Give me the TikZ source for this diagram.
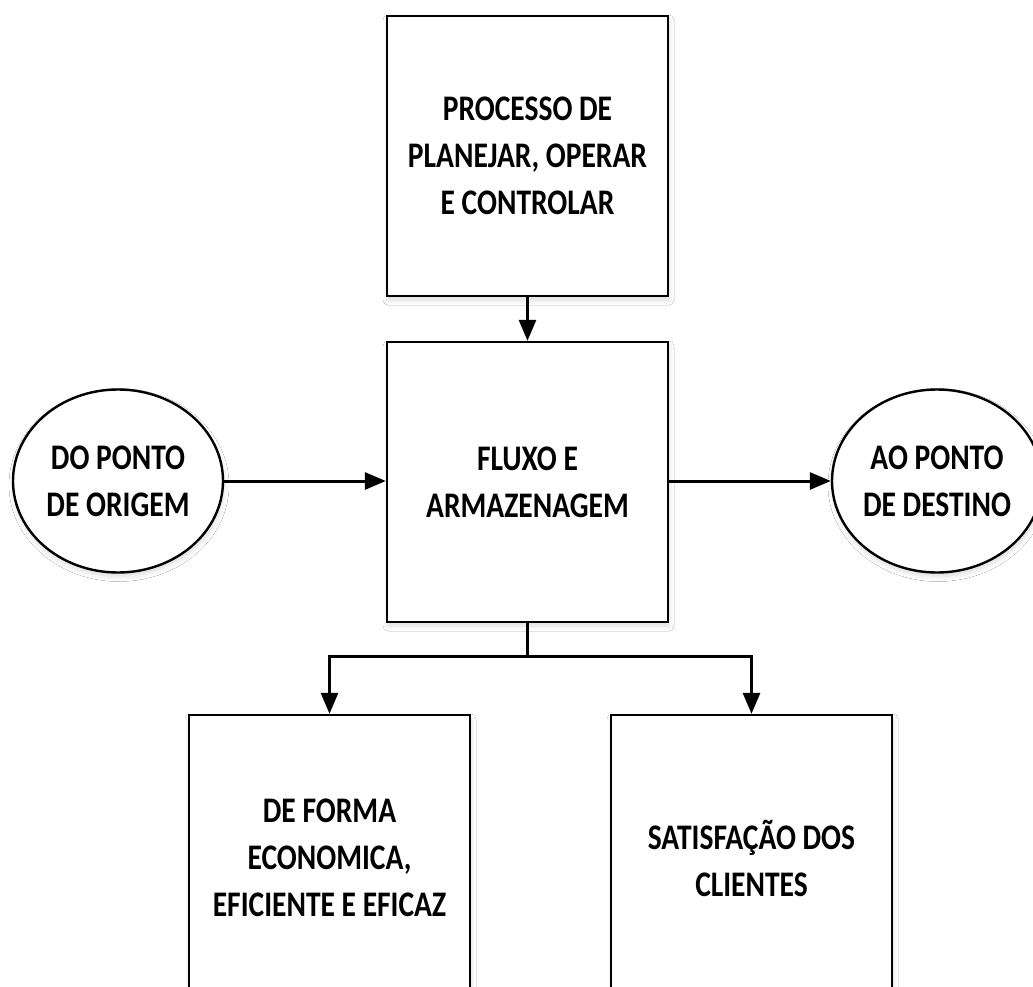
\documentclass[tikz,border=0pt]{standalone}
\usepackage{fontspec}
\setmainfont{Carlito}[FakeStretch=0.82]
\usetikzlibrary{arrows.meta,shadows.blur,shapes.geometric}

\tikzset{
  soft/.style={blur shadow={shadow xshift=1pt, shadow yshift=-4pt,
      shadow blur radius=5pt, shadow blur steps=6, shadow opacity=14}},
  txt/.style={font=\fontsize{36}{47}\selectfont\bfseries, align=center,
      text=black, inner sep=0pt},
  stepbox/.style={txt, draw=black, line width=2.4pt, fill=white, soft,
      rectangle, minimum width=281pt},
  endpoint/.style={txt, draw=black, line width=2.4pt, fill=white, soft,
      ellipse, minimum width=210pt, minimum height=183pt},
  link/.style={draw=black, line width=3pt},
  arr/.style={link, -{Triangle[length=21pt, width=17pt]}},
}

\begin{document}
\begin{tikzpicture}[x=1pt, y=-1pt]
  \clip (0,0) rectangle (1033,987);
  \fill[white] (0,0) rectangle (1033,987);

  % boxes of the main chain
  \node[stepbox, minimum height=280pt] (plan) at (527.5,156)
    {PROCESSO DE\\PLANEJAR, OPERAR\\E CONTROLAR};
  \node[stepbox, minimum height=280pt] (flow) at (527.5,482)
    {FLUXO E\\ARMAZENAGEM};

  % origin and destination
  \node[endpoint] (orig) at (118,481) {DO PONTO\\DE ORIGEM};
  \node[endpoint] (dest) at (937,481) {AO PONTO\\DE DESTINO};

  % outcome boxes (run past the lower edge)
  \node[stepbox, minimum height=286pt] (econ) at (329.5,858)
    {DE FORMA\\ECONOMICA,\\EFICIENTE E EFICAZ};
  \node[stepbox, minimum height=286pt] (sat) at (751.5,858)
    {SATISFAÇÃO DOS\\CLIENTES};

  % connectors
  \draw[arr] (plan.south) -- (flow.north);
  \draw[arr] (orig.east) -- (orig.east -| flow.west);
  \draw[arr] (flow.east |- dest.west) -- (dest.west);

  \coordinate (split) at (527.5,656);
  \draw[link] (flow.south) -- (split);
  \draw[arr] (split) -| (econ.north);
  \draw[arr] (split) -| (sat.north);
\end{tikzpicture}
\end{document}
